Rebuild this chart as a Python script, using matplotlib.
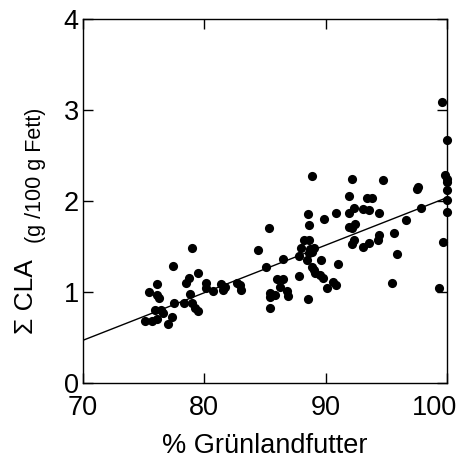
import matplotlib
matplotlib.use("Agg")
import matplotlib.pyplot as plt
from matplotlib.transforms import ScaledTranslation

plt.rcParams['font.family'] = ['Liberation Sans', 'DejaVu Sans']

# % Grünlandfutter vs. Summe CLA (g/100 g Fett)
gruen = [
    # 75-80
    78.96, 77.45, 79.5, 78.77, 78.5, 76.1, 75.4, 76.1, 76.3, 80.1, 80.1, 78.8,
    77.5, 78.3, 79.0, 75.9, 76.4, 76.6, 79.2, 79.45, 77.3, 77.0, 75.1, 75.7, 76.1,
    # 80-88
    80.74, 81.35, 81.7, 81.5, 82.67, 82.9, 83.0, 84.45, 85.06, 86.5, 87.8, 87.8,
    85.3, 86.0, 86.5, 86.2, 86.8, 86.9, 85.4, 85.8, 85.4, 85.4,
    # 88-91
    88.85, 88.57, 88.66, 89.9, 90.86, 88.2, 88.6, 88.0, 88.7, 89.0, 88.6, 88.85,
    88.5, 89.6, 91.0, 88.85, 89.0, 89.1, 89.5, 89.8, 90.1, 90.6, 90.86, 88.57,
    # 92-98
    92.2, 94.7, 91.96, 93.4, 93.8, 92.3, 91.96, 93.05, 93.6, 94.4, 96.6, 92.4,
    92.2, 92.3, 92.2, 93.05, 93.6, 94.4, 94.3, 95.6, 95.9, 95.5, 97.5, 97.65,
    97.84, 91.96,
    # 100
    99.6, 100.0, 99.85, 99.98, 100.0, 100.0, 100.0, 100.0, 99.7, 99.35,
]
cla = [
    1.49, 1.29, 1.21, 1.15, 1.10, 1.09, 1.00, 0.97, 0.94, 1.10, 1.05, 0.98,
    0.88, 0.88, 0.88, 0.80, 0.80, 0.77, 0.82, 0.79, 0.73, 0.65, 0.68, 0.68, 0.70,
    1.01, 1.09, 1.06, 1.02, 1.10, 1.08, 1.02, 1.46, 1.28, 1.36, 1.40, 1.18,
    1.71, 1.14, 1.14, 1.06, 1.01, 0.96, 0.99, 0.97, 0.95, 0.82,
    2.28, 1.86, 1.74, 1.81, 1.87, 1.57, 1.57, 1.49, 1.48, 1.49, 1.43, 1.44,
    1.35, 1.35, 1.31, 1.28, 1.24, 1.21, 1.19, 1.16, 1.05, 1.11, 1.08, 0.92,
    2.24, 2.23, 2.06, 2.04, 2.04, 1.93, 1.87, 1.91, 1.90, 1.87, 1.79, 1.75,
    1.71, 1.57, 1.53, 1.50, 1.54, 1.63, 1.57, 1.65, 1.42, 1.10, 2.14, 2.16,
    1.93, 1.72,
    3.09, 2.67, 2.29, 2.25, 2.21, 2.12, 2.01, 1.88, 1.55, 1.04,
]

# regression line end points
fit_x = [70, 100]
fit_y = [0.47, 2.04]

fig = plt.figure(figsize=(4.6, 4.62), dpi=100)
ax = fig.add_axes([83 / 460, 1 - 383 / 462, (447 - 83) / 460, (383 - 19.5) / 462])

ax.plot(fit_x, fit_y, color='black', lw=1.0)
ax.plot(gruen, cla, 'o', color='black', ms=6.6, mew=0, clip_on=False, zorder=3)

ax.set_xlim(70, 100)
ax.set_ylim(0, 4)
ax.set_xticks([70, 80, 90, 100])
ax.set_yticks([0, 1, 2, 3, 4])
ax.tick_params(direction='in', length=7.5, width=1.0, labelsize=19.5,
               top=True, right=True)
ax.tick_params(axis='x', pad=8.5)
ax.tick_params(axis='y', pad=3)
for sp in ax.spines.values():
    sp.set_linewidth(1.0)

# last x label sits left of its tick so it stays inside the picture
lab = ax.get_xticklabels()[-1]
lab.set_transform(lab.get_transform() + ScaledTranslation(-12 / 100, 0, fig.dpi_scale_trans))

fig.text(265 / 460, 1 - 446 / 462, '% Grünlandfutter', fontsize=19.5,
         ha='center', va='center')

# y label: big and small parts
fig.text(26.5 / 460, 1 - 297 / 462, 'Σ CLA', rotation=90, fontsize=19,
         ha='center', va='center')
fig.text(35 / 460, 1 - 175 / 462, '(g /100 g Fett)', rotation=90, fontsize=15.5,
         ha='center', va='center')

fig.savefig('out.png', dpi=100)
